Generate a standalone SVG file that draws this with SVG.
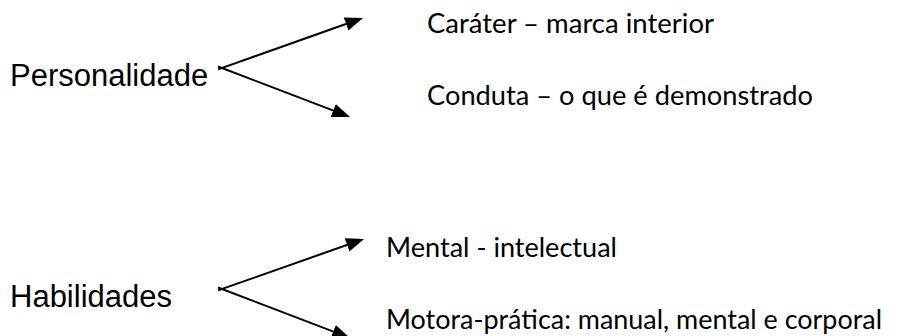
<svg xmlns="http://www.w3.org/2000/svg" width="901" height="336" viewBox="0 0 901 336">
  <style>
    .main { font-family: "Liberation Sans", Arial, sans-serif; font-size: 31px; fill: #000; }
    .item { font-family: Lato, "Open Sans", sans-serif; font-size: 26px; fill: #000; }
    .conn { stroke: #000; stroke-width: 2; fill: none; marker-end: url(#arrow); }
  </style>
  <defs>
    <marker id="arrow" markerUnits="userSpaceOnUse" markerWidth="20" markerHeight="16" refX="8" refY="7" orient="auto">
      <path d="M0,0 L18,7 L0,14 Z" fill="#000"/>
    </marker>
  </defs>
  <rect width="901" height="336" fill="#fff"/>

  <g id="personalidade">
    <text class="main" x="10" y="86">Personalidade</text>
  </g>
  <g id="carater">
    <text class="item" x="427" y="33" textLength="287" lengthAdjust="spacingAndGlyphs">Caráter – marca interior</text>
  </g>
  <g id="conduta">
    <text class="item" x="427" y="105" textLength="386" lengthAdjust="spacingAndGlyphs">Conduta – o que é demonstrado</text>
  </g>

  <g id="habilidades">
    <text class="main" x="10" y="307">Habilidades</text>
  </g>
  <g id="mental">
    <text class="item" x="386" y="257" textLength="231" lengthAdjust="spacingAndGlyphs">Mental - intelectual</text>
  </g>
  <g id="motora">
    <text class="item" x="386" y="329" textLength="496" lengthAdjust="spacingAndGlyphs">Motora-prática: manual, mental e corporal</text>
  </g>

  <g id="connectors">
    <line class="conn" x1="218" y1="69.4" x2="353.6" y2="21.3"/>
    <line class="conn" x1="218" y1="66.5" x2="340.7" y2="113.4"/>
    <line class="conn" x1="218" y1="290.4" x2="354.6" y2="242.3"/>
    <line class="conn" x1="218" y1="287.5" x2="340.7" y2="334.4"/>
  </g>
</svg>
